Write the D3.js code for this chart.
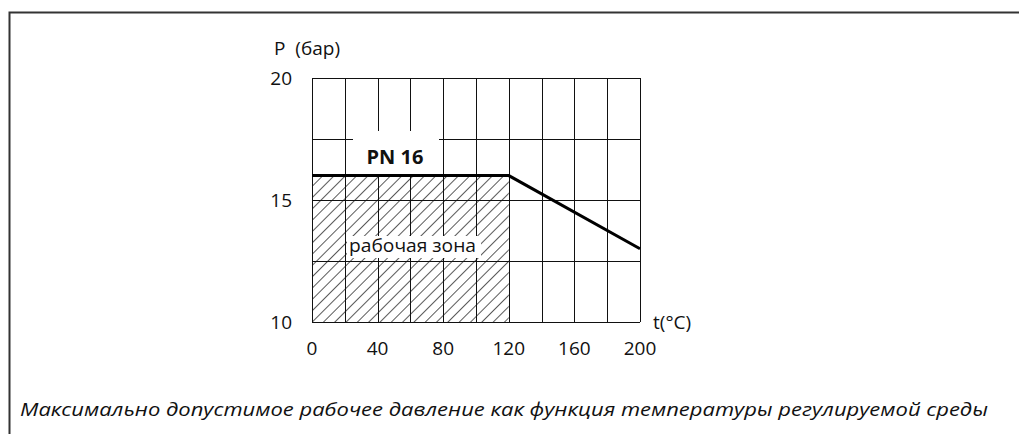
<!DOCTYPE html>
<html><head><meta charset="utf-8">
<script src="https://cdn.jsdelivr.net/npm/d3@7"></script>
<style>body{margin:0;background:#fff}svg{display:block}text{font-family:"Open Sans","Noto Sans",sans-serif}</style>
</head><body><svg id="c" width="1019" height="434"></svg>
<script>
const xTicks = [0, 40, 80, 120, 160, 200];
const xGrid = [0, 20, 40, 60, 80, 100, 120, 140, 160, 180, 200];
const yTicks = [10, 15, 20];
const yGrid = [10, 12.5, 15, 17.5, 20];
const limitT = [0, 120, 200];
const limitP = [16, 16, 13];
const zoneT = [0, 120];
const zoneP = [10, 16];
const seriesLabel = "PN 16";
const zoneLabel = "рабочая зона";
const xLabel = "t(°C)";
const yLabel = "P  (бар)";
const caption = "Максимально допустимое рабочее давление как функция температуры регулируемой среды";

const svg = d3.select("#c");
const x = d3.scaleLinear().domain([0, 200]).range([312, 640]);
const y = d3.scaleLinear().domain([10, 20]).range([322, 78]);

// frame
svg.append("path").attr("d", "M9.5,434 V12.5 H1019").attr("fill", "none").attr("stroke", "#333").attr("stroke-width", 2);

// hatch pattern
const defs = svg.append("defs");
const pat = defs.append("pattern").attr("id", "hatch").attr("patternUnits", "userSpaceOnUse")
  .attr("width", 8).attr("height", 8).attr("patternTransform", "rotate(45)");
pat.append("line").attr("x1", 0).attr("y1", 0).attr("x2", 0).attr("y2", 8).attr("stroke", "#000").attr("stroke-width", 1.3);

svg.append("rect").attr("x", x(zoneT[0])).attr("y", y(zoneP[1]))
  .attr("width", x(zoneT[1]) - x(zoneT[0])).attr("height", y(zoneP[0]) - y(zoneP[1]))
  .attr("fill", "url(#hatch)");

// grid
const g = svg.append("g").attr("stroke", "#111").attr("stroke-width", 1.2).attr("shape-rendering", "crispEdges");
xGrid.forEach(v => g.append("line").attr("x1", Math.round(x(v)) + 0.5).attr("x2", Math.round(x(v)) + 0.5).attr("y1", y(20)).attr("y2", y(10)));
yGrid.forEach(v => g.append("line").attr("x1", x(0)).attr("x2", x(200)).attr("y1", Math.round(y(v)) + 0.5).attr("y2", Math.round(y(v)) + 0.5));

// label boxes
svg.append("rect").attr("x", 353).attr("y", 131).attr("width", 86).attr("height", 43).attr("fill", "#fff");
svg.append("text").attr("x", 395).attr("y", 164).attr("text-anchor", "middle").attr("font-size", 20).attr("font-weight", 700).attr("fill", "#111").text(seriesLabel);
svg.append("rect").attr("x", 347).attr("y", 236).attr("width", 134).attr("height", 22).attr("fill", "#fff");
svg.append("text").attr("x", 349).attr("y", 252).attr("font-size", 19).attr("fill", "#111")
  .attr("textLength", 127).attr("lengthAdjust", "spacingAndGlyphs").text(zoneLabel);

// limit line
const line = d3.line().x((d, i) => x(limitT[i])).y((d, i) => y(limitP[i]));
svg.append("path").attr("d", line(limitT)).attr("fill", "none").attr("stroke", "#000").attr("stroke-width", 3);

// axes labels
const tx = svg.append("g").attr("font-size", 19).attr("fill", "#111");
xTicks.forEach(v => tx.append("text").attr("x", x(v)).attr("y", 355).attr("text-anchor", "middle").text(v));
yTicks.forEach(v => tx.append("text").attr("x", 292).attr("y", y(v) + 7).attr("text-anchor", "end").text(v));
tx.append("text").attr("x", 653).attr("y", 329).text(xLabel);
tx.append("text").attr("x", 274).attr("y", 55).attr("font-size", 19).attr("xml:space", "preserve").text(yLabel);

svg.append("text").attr("x", 20).attr("y", 416).attr("font-size", 19).attr("font-style", "italic").attr("fill", "#111")
  .attr("textLength", 968).attr("lengthAdjust", "spacingAndGlyphs").text(caption);
</script></body></html>
